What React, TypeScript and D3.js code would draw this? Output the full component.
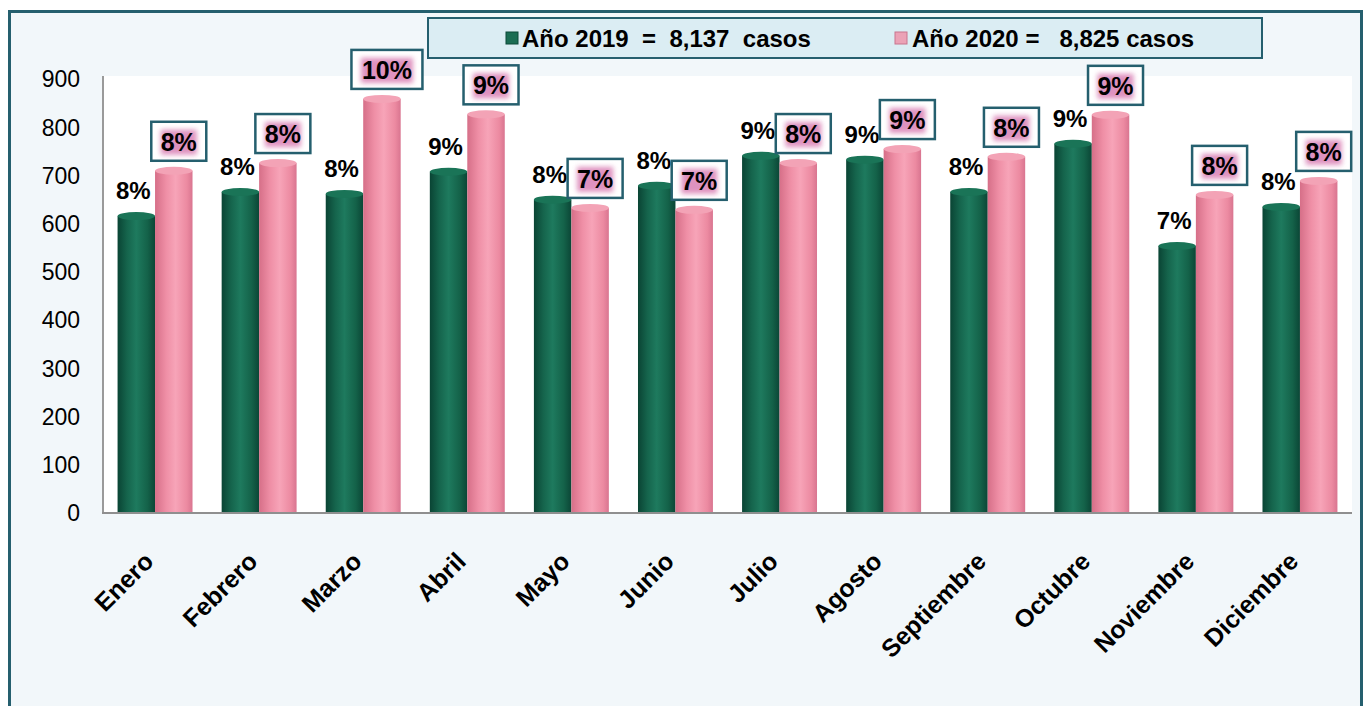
import React from 'react';
import * as d3 from 'd3';

const meses = ['Enero', 'Febrero', 'Marzo', 'Abril', 'Mayo', 'Junio', 'Julio', 'Agosto', 'Septiembre', 'Octubre', 'Noviembre', 'Diciembre'];
const casos2019 = [624, 674, 670, 716, 658, 687, 749, 741, 674, 774, 562, 643];
const casos2020 = [718, 734, 867, 835, 641, 637, 734, 763, 747, 834, 668, 697];
const pct2019 = ['8%', '8%', '8%', '9%', '8%', '8%', '9%', '9%', '8%', '9%', '7%', '8%'];
const pct2020 = ['8%', '8%', '10%', '9%', '7%', '7%', '8%', '9%', '8%', '9%', '8%', '8%'];
const yTicks = [0, 100, 200, 300, 400, 500, 600, 700, 800, 900];
const leyenda = ['Año 2019  =  8,137  casos', 'Año 2020 =   8,825 casos'];

const W = 1369;
const H = 706;
const FONT = '"Liberation Sans", Arial, sans-serif';
const BORDE = '#255f6e';

export default function App() {
  const x = d3.scaleBand<string>().domain(meses).range([103, 1352]).paddingInner(0.28).paddingOuter(0.14);
  const xs = d3.scaleBand<string>().domain(['2019', '2020']).range([0, x.bandwidth()]);
  const y = d3.scaleLinear().domain([0, 900]).range([513, 79]);
  const bw = xs.bandwidth();
  const cap = 4;

  // un cilindro: cuerpo + tapa elíptica
  const cilindro = (cx: number, v: number, grad: string, tapa: string, key: string) => {
    const top = y(v);
    return (
      <g key={key}>
        <rect x={cx} y={top + cap} width={bw} height={y(0) - top - cap} fill={`url(#${grad})`} />
        <ellipse cx={cx + bw / 2} cy={top + cap} rx={bw / 2} ry={cap} fill={tapa} />
      </g>
    );
  };

  return (
    <svg width={W} height={H} style={{ position: 'absolute', left: 0, top: 0, background: '#fff' }} fontFamily={FONT}>
      <defs>
        <linearGradient id="gVerde" x1="0" x2="1" y1="0" y2="0">
          <stop offset="0" stopColor="#0a4434" />
          <stop offset="0.25" stopColor="#15644c" />
          <stop offset="0.5" stopColor="#1e7a5e" />
          <stop offset="0.8" stopColor="#146249" />
          <stop offset="1" stopColor="#0b4636" />
        </linearGradient>
        <linearGradient id="gRosa" x1="0" x2="1" y1="0" y2="0">
          <stop offset="0" stopColor="#d66f88" />
          <stop offset="0.3" stopColor="#ef8fa6" />
          <stop offset="0.55" stopColor="#f7a4b8" />
          <stop offset="0.85" stopColor="#ec8aa1" />
          <stop offset="1" stopColor="#d97590" />
        </linearGradient>
        <filter id="borroso" x="-30%" y="-30%" width="160%" height="160%">
          <feGaussianBlur stdDeviation="2.5" />
        </filter>
      </defs>

      {/* marco exterior */}
      <rect x={9.5} y={11.5} width={1352} height={720} fill="#f2f7fa" stroke={BORDE} strokeWidth={3} />

      {/* área de trazado */}
      <rect x={103} y={76} width={1249} height={y(0) - 76} fill="#fff" />

      {/* leyenda */}
      <rect x={428} y={18} width={834} height={40} fill="#dbedf3" stroke={BORDE} strokeWidth={2} />
      <rect x={506} y={32} width={12} height={12} fill="#1b6d53" stroke="#0d4a39" strokeWidth={1} />
      <text x={522} y={47} fontSize={24} fontWeight="bold" style={{ whiteSpace: 'pre' }}>{leyenda[0]}</text>
      <rect x={895} y={32} width={12} height={12} fill="#eba2b6" stroke="#c9758e" strokeWidth={1} />
      <text x={912} y={47} fontSize={24} fontWeight="bold" style={{ whiteSpace: 'pre' }}>{leyenda[1]}</text>

      {/* eje Y */}
      {yTicks.map((t) => (
        <text key={t} x={80} y={y(t)} dy="0.36em" textAnchor="end" fontSize={23}>{t}</text>
      ))}

      {/* barras */}
      {meses.map((m, i) => {
        const x0 = x(m) as number;
        return (
          <g key={m}>
            {cilindro(x0 + (xs('2019') as number), casos2019[i], 'gVerde', '#1a7457', `a${i}`)}
            {cilindro(x0 + (xs('2020') as number), casos2020[i], 'gRosa', '#f3a3b6', `b${i}`)}
          </g>
        );
      })}

      {/* ejes */}
      <line x1={103} x2={103} y1={76} y2={y(0) + 1} stroke="#9a9a9a" strokeWidth={2} />
      <line x1={102} x2={1352} y1={y(0)} y2={y(0)} stroke="#8f8f8f" strokeWidth={2} />

      {/* etiquetas 2019 */}
      {meses.map((m, i) => {
        const cx = (x(m) as number) + (xs('2019') as number) + bw / 2 - 3;
        return (
          <text key={m} x={cx} y={y(casos2019[i]) - 13} textAnchor="middle" fontSize={24} fontWeight="bold">{pct2019[i]}</text>
        );
      })}

      {/* etiquetas 2020 en recuadro */}
      {meses.map((m, i) => {
        const cx = (x(m) as number) + (xs('2020') as number) + bw / 2 + 5;
        const bottom = y(casos2020[i]) - 6;
        const tw = pct2020[i].length > 2 ? 52 : 36;
        const bx = tw + 19;
        return (
          <g key={m}>
            <rect x={cx - bx / 2} y={bottom - 39} width={bx} height={39} fill="#fff" stroke={BORDE} strokeWidth={2.5} />
            <rect x={cx - tw / 2} y={bottom - 31} width={tw} height={25} fill="#d97fb4" opacity={0.85} filter="url(#borroso)" />
            <text x={cx} y={bottom - 10} textAnchor="middle" fontSize={25} fontWeight="bold">{pct2020[i]}</text>
          </g>
        );
      })}

      {/* categorías */}
      {meses.map((m) => {
        const cx = (x(m) as number) + x.bandwidth() / 2;
        return (
          <text key={m} transform={`translate(${cx},${563}) rotate(-45)`} textAnchor="end" fontSize={25} fontWeight="bold">{m}</text>
        );
      })}
    </svg>
  );
}
